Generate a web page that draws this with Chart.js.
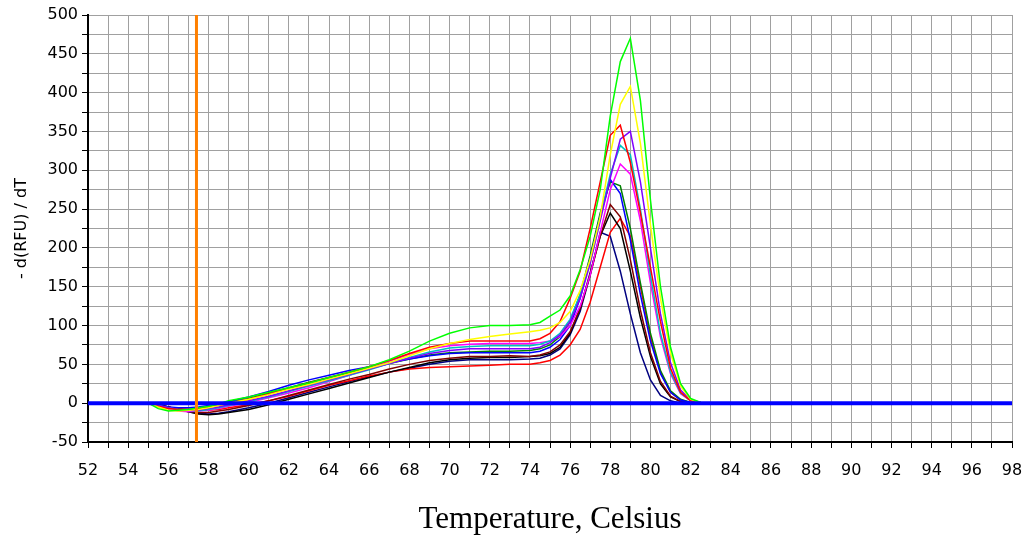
<!DOCTYPE html>
<html>
<head>
<meta charset="utf-8">
<script src="https://cdn.jsdelivr.net/npm/chart.js@4"></script>
<style>
  body { margin: 0; background: #fff; }
</style>
</head>
<body>
<canvas id="meltChart" width="1030" height="538"></canvas>
<script>
// Melt curve - derivative of fluorescence vs temperature
const temps = [55, 55.5, 56, 56.5, 57, 57.5, 58, 58.5, 59, 60, 61, 62, 63, 64, 65, 66, 67, 68, 69, 70, 71, 72, 73,
  74, 74.5, 75, 75.5, 76, 76.5, 77, 77.5, 78, 78.5, 79, 79.5, 80, 80.5, 81, 81.5, 82, 82.5, 83, 98];

const greenVals   = [0, -7, -10, -9, -8, -6, -4, -1, 3, 8, 14, 20, 26, 33, 40, 47, 56, 67, 80, 90, 97, 100, 100,
  101, 104, 112, 120, 138, 172, 215, 275, 370, 440, 470, 390, 262, 150, 72, 25, 6, 1, 0, 0];
const yellowVals  = [0, -5, -9, -10, -9, -8, -6, -3, 0, 5, 11, 18, 24, 31, 38, 45, 52, 61, 70, 77, 82, 86, 89,
  92, 94, 97, 104, 118, 145, 185, 240, 320, 385, 408, 335, 230, 135, 65, 22, 5, 1, 0, 0];
const redVals     = [0, -4, -7, -8, -8, -7, -5, -3, 0, 5, 12, 19, 26, 33, 40, 47, 55, 64, 72, 77, 80, 80, 80,
  80, 83, 90, 105, 135, 170, 225, 285, 345, 358, 310, 245, 175, 105, 45, 14, 3, 1, 0, 0];
const purpleVals  = [0, -3, -6, -8, -9, -9, -7, -5, -2, 3, 9, 16, 23, 30, 37, 44, 51, 58, 64, 68, 70, 70, 70,
  70, 72, 78, 88, 105, 135, 180, 235, 290, 340, 350, 285, 200, 115, 52, 17, 4, 1, 0, 0];
const cyanVals    = [0, -3, -6, -8, -9, -10, -8, -6, -3, 2, 8, 15, 22, 29, 36, 43, 51, 59, 66, 71, 73, 74, 74,
  74, 76, 80, 90, 108, 140, 185, 240, 295, 332, 320, 250, 165, 90, 40, 13, 3, 1, 0, 0];
const magentaVals = [0, -3, -7, -10, -11, -10, -9, -7, -4, 1, 7, 13, 20, 28, 36, 45, 54, 63, 70, 74, 76, 77, 77,
  77, 78, 80, 86, 100, 125, 165, 220, 275, 308, 295, 235, 155, 85, 38, 12, 3, 1, 0, 0];
const blueVals    = [0, -3, -5, -6, -6, -5, -3, -1, 2, 8, 15, 23, 30, 36, 42, 47, 52, 57, 61, 64, 65, 65, 65,
  65, 67, 72, 82, 100, 135, 185, 240, 288, 270, 210, 140, 80, 38, 14, 4, 1, 0, 0, 0];
const dkGreenVals = [0, -4, -7, -8, -8, -7, -5, -2, 1, 6, 13, 20, 27, 33, 39, 45, 51, 57, 62, 65, 66, 67, 67,
  68, 70, 75, 86, 105, 140, 190, 245, 285, 280, 225, 155, 90, 42, 16, 5, 1, 0, 0, 0];
const maroonVals  = [0, -2, -5, -8, -10, -12, -12, -10, -8, -3, 3, 10, 17, 24, 31, 37, 44, 50, 55, 58, 60, 60, 61,
  60, 62, 66, 75, 92, 122, 165, 215, 256, 240, 185, 120, 65, 28, 9, 2, 0, 0, 0, 0];
const black1Vals  = [0, -2, -5, -8, -11, -14, -15, -14, -12, -8, -2, 5, 12, 19, 26, 33, 40, 46, 52, 56, 58, 59, 59,
  60, 61, 64, 72, 90, 122, 168, 215, 245, 225, 170, 110, 60, 25, 8, 2, 0, 0, 0, 0];
const red2Vals    = [0, -2, -5, -7, -8, -9, -9, -8, -6, -2, 3, 9, 16, 23, 29, 35, 40, 44, 46, 47, 48, 49, 50,
  50, 52, 55, 62, 75, 95, 130, 175, 220, 238, 215, 150, 85, 40, 14, 4, 1, 0, 0, 0];
const navyVals    = [0, -2, -5, -8, -11, -13, -14, -13, -11, -6, 0, 7, 14, 21, 28, 34, 40, 45, 50, 54, 56, 56, 56,
  57, 58, 62, 70, 88, 118, 165, 220, 215, 170, 115, 65, 30, 10, 3, 0, 0, 0, 0, 0];

const curves = [
  { color: '#00ff00', vals: greenVals },
  { color: '#ffff00', vals: yellowVals },
  { color: '#ff0000', vals: redVals },
  { color: '#8000ff', vals: purpleVals },
  { color: '#00c0c0', vals: cyanVals },
  { color: '#ff00ff', vals: magentaVals },
  { color: '#0000ff', vals: blueVals },
  { color: '#008000', vals: dkGreenVals },
  { color: '#800000', vals: maroonVals },
  { color: '#000000', vals: black1Vals },
  { color: '#ff0000', vals: red2Vals },
  { color: '#000080', vals: navyVals }
];

const thresholdTemp = 57.4;        // orange marker line
const baselineRange = [52, 98];    // blue zero line
const xRange = [52, 98];
const yRange = [-50, 500];

const datasets = [
  {
    data: [{ x: thresholdTemp, y: yRange[0] }, { x: thresholdTemp, y: yRange[1] }],
    borderColor: '#ff8000',
    borderWidth: 3
  },
  {
    data: baselineRange.map(t => ({ x: t, y: 0 })),
    borderColor: '#0000ff',
    borderWidth: 4
  }
];
curves.forEach(c => {
  datasets.push({
    data: temps.map((t, i) => ({ x: t, y: c.vals[i] })),
    borderColor: c.color,
    borderWidth: 1.5
  });
});

const ctx = document.getElementById('meltChart').getContext('2d');
const meltChart = new Chart(ctx, {
  type: 'line',
  data: { datasets: datasets },
  options: {
    responsive: false,
    animation: false,
    elements: { point: { radius: 0 }, line: { tension: 0 } },
    layout: { padding: { top: 15, right: 18, left: 0, bottom: 0 } },
    plugins: { legend: { display: false }, tooltip: { enabled: false } },
    scales: {
      x: {
        type: 'linear',
        min: xRange[0],
        max: xRange[1],
        afterFit: function(scale) {
          scale.height = 96;
          scale.paddingRight = 0;
          scale.paddingLeft = 0;
        },
        grid: { color: '#a0a0a0', tickColor: '#000', tickLength: 6 },
        border: { color: '#000', width: 2 },
        ticks: {
          stepSize: 1,
          autoSkip: false,
          maxRotation: 0,
          padding: 13,
          color: '#000',
          font: { family: 'DejaVu Sans', size: 16 },
          callback: function(value) { return value % 2 === 0 ? value : ''; }
        },
        title: {
          display: true,
          text: 'Temperature, Celsius',
          color: '#000',
          font: { family: 'Liberation Serif', size: 31 },
          padding: { top: 0, bottom: 0 }
        }
      },
      y: {
        min: yRange[0],
        max: yRange[1],
        afterFit: function(scale) { scale.width = 88; },
        grid: { color: '#a0a0a0', tickColor: '#000', tickLength: 6 },
        border: { color: '#000', width: 2 },
        ticks: {
          stepSize: 25,
          autoSkip: false,
          padding: 4,
          color: '#000',
          font: { family: 'DejaVu Sans', size: 16 },
          callback: function(value) { return value % 50 === 0 ? value : ''; }
        },
        title: {
          display: true,
          text: '- d(RFU) / dT',
          color: '#000',
          font: { family: 'DejaVu Sans', size: 16 },
          padding: { top: 12, bottom: 0 }
        }
      }
    }
  }
});
</script>
</body>
</html>
